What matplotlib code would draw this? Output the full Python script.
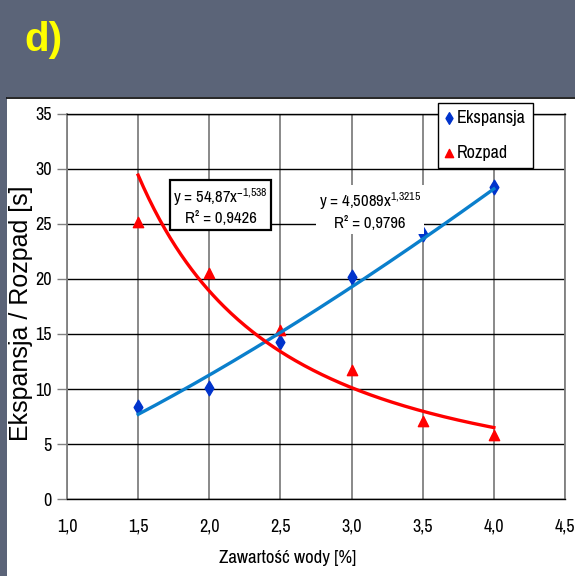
import numpy as np
import matplotlib
matplotlib.use("Agg")
import matplotlib.pyplot as plt
from matplotlib.patches import Rectangle
from matplotlib.lines import Line2D
from matplotlib import font_manager

# ---- data ----
water = [1.5, 2.0, 2.5, 3.0, 3.5, 4.0]
ekspansja = [8.4, 10.1, 14.3, 20.2, 24.1, 28.3]
rozpad = [25.2, 20.5, 15.4, 11.7, 7.1, 5.8]
eks_fit = [4.5089, 1.3215]   # y = a * x^b
roz_fit = [54.87, -1.538]
x_ticks = [1.0, 1.5, 2.0, 2.5, 3.0, 3.5, 4.0, 4.5]
x_tick_labels = ["1,0", "1,5", "2,0", "2,5", "3,0", "3,5", "4,0", "4,5"]
y_ticks = [0, 5, 10, 15, 20, 25, 30, 35]
series_names = ["Ekspansja", "Rozpad"]

names = {f.name for f in font_manager.fontManager.ttflist}
candidates = ["Liberation Sans Narrow", "Arial Narrow", "Archivo Narrow", "Roboto Condensed",
              "PT Sans Narrow", "Open Sans Condensed", "Encode Sans Condensed",
              "Fira Sans Condensed", "IBM Plex Sans Condensed", "Asap Condensed",
              "Liberation Sans"]
narrow = next(c for c in candidates if c in names)
plt.rcParams["font.family"] = [narrow, "DejaVu Sans"]
plt.rcParams["mathtext.fontset"] = "custom"
plt.rcParams["mathtext.rm"] = narrow
plt.rcParams["mathtext.it"] = narrow + ":italic"
plt.rcParams["mathtext.bf"] = narrow + ":bold"

W, H = 575, 576
fig = plt.figure(figsize=(W / 100, H / 100), dpi=100)
fig.patch.set_facecolor("#5B6478")
fig.add_artist(Rectangle((7 / W, 0), 1, (H - 97) / H, transform=fig.transFigure,
                         fc="white", ec="none", zorder=-2))
fig.add_artist(Line2D([7 / W, 1], [(H - 97.5) / H] * 2, transform=fig.transFigure,
                      color="black", lw=1.2, zorder=-1))
fig.text(24 / W, 1 - 51 / H, "d)", color="#FFFF00", fontsize=29, fontweight="bold",
         family="Liberation Sans", ha="left", va="baseline")

x0, x1, ytop, ybot = 67, 565, 113.5, 499.3
ax = fig.add_axes([x0 / W, (H - ybot) / H, (x1 - x0) / W, (ybot - ytop) / H])
ax.set_xlim(1.0, 4.5)
ax.set_ylim(0, 35)
ax.set_xticks(x_ticks)
ax.set_xticklabels(x_tick_labels)
ax.set_yticks(y_ticks)
ax.yaxis.grid(True, color="black", lw=1.0)
ax.xaxis.grid(True, color="#808080", lw=1.3)
for s in ["left", "right"]:
    ax.spines[s].set_color("#808080")
    ax.spines[s].set_linewidth(1.3)
for s in ["top", "bottom"]:
    ax.spines[s].set_color("black")
    ax.spines[s].set_linewidth(1.0)
ax.tick_params(axis="x", length=0, pad=14, labelsize=13)
ax.tick_params(axis="y", length=7, width=1, color="#808080", pad=4, labelsize=13)

wx = np.array(water)
xf = np.linspace(wx.min(), wx.max(), 200)
ax.plot(xf, eks_fit[0] * xf ** eks_fit[1], color="#0A7FCC", lw=2.4, zorder=4)
ax.plot(xf, roz_fit[0] * xf ** roz_fit[1], color="#FF0000", lw=2.4, zorder=4)
ax.scatter(water, ekspansja, marker="d", s=55, color="#0033CC", zorder=3, label=series_names[0])
ax.scatter(water, rozpad, marker="^", s=55, color="#FF0000", zorder=3, label=series_names[1])

ax.text(2.08, 26.6, "y = 54,87x$^{\\mathrm{-1{,}538}}$\nR² = 0,9426", fontsize=12,
        ha="center", va="center", multialignment="center", linespacing=1.3, zorder=6,
        bbox=dict(boxstyle="square,pad=0.2", fc="white", ec="black", lw=1.6))
ax.text(3.13, 26.2, "y = 4,5089x$^{\\mathrm{1{,}3215}}$\nR² = 0,9796", fontsize=12,
        ha="center", va="center", multialignment="center", linespacing=1.3, zorder=6,
        bbox=dict(boxstyle="square,pad=0.2", fc="white", ec="none"))

leg = fig.legend(loc="upper left", bbox_to_anchor=(438 / W, 1 - 103 / H), fontsize=13,
                 frameon=True, fancybox=False, edgecolor="black", framealpha=1,
                 handlelength=0.4, handletextpad=0.25, labelspacing=1.05,
                 borderpad=0.4, borderaxespad=0, markerscale=0.8)
leg.get_frame().set_linewidth(1.0)

fig.text(288 / W, 1 - 558 / H, "Zawartość wody [%]", fontsize=13.5, ha="center", va="center")
fig.text(21 / W, 1 - 313 / H, "Ekspansja / Rozpad [s]", fontsize=18, family="Liberation Sans",
         rotation=90, ha="center", va="center")

fig.savefig("out.png", dpi=100, facecolor=fig.get_facecolor())
